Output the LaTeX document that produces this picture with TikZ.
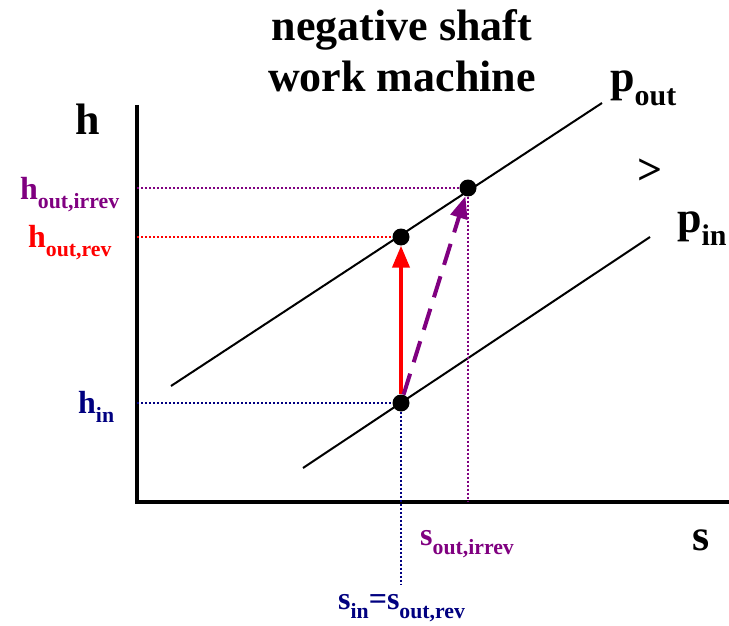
\documentclass[tikz,border=0pt]{standalone}
\usepackage{fontspec}
\setmainfont{Liberation Serif}
\usepackage{graphicx}
\usetikzlibrary{arrows.meta}
\definecolor{irrevpurple}{RGB}{128,0,128}
\definecolor{innavy}{RGB}{0,0,128}
\newcommand{\lowsub}[1]{\raisebox{-0.3em}{\scalebox{0.68}{#1}}}
\newcommand{\bigfont}{\fontsize{44}{51}\selectfont\bfseries}
\newcommand{\lblfont}{\fontsize{32}{36}\selectfont\bfseries}

\begin{document}
\begin{tikzpicture}[x=1pt, y=-1pt,
    state/.style={circle, fill=black, inner sep=0pt, minimum size=17pt},
    guide/.style={line width=1.3pt, dash pattern=on 2pt off 2pt},
    proc/.style={line width=4pt, -{Triangle[length=22pt, width=17pt]}},
    biglbl/.style={font=\bigfont, inner sep=0pt},
    lbl/.style={font=\lblfont, inner sep=0pt, anchor=base west}]
\useasboundingbox (0,0) rectangle (729,626);
\node[biglbl, align=center, anchor=north] (title) at (402,9) {negative shaft\\work machine};

\coordinate (htop) at (137,105);
\coordinate (orig) at (137,502);
\coordinate (send) at (729,502);
\draw[line width=3.5pt] (htop) -- (orig) -- (send);

\coordinate (poutA) at (171,386);
\coordinate (poutB) at (602,103);
\coordinate (pinA) at (303,468);
\coordinate (pinB) at (650,237);
\draw[line width=2pt] (poutA) -- (poutB) (pinA) -- (pinB);

\node[state] (in) at (401,403) {};
\node[state] (rev) at (401,237) {};
\node[state] (irrev) at (468,188) {};

\coordinate (hirrev) at (137,188);
\coordinate (hrev) at (137,237);
\coordinate (hin) at (137,403);
\coordinate (sirrev) at (468,502);
\coordinate (sin) at (401,585);
\draw[guide, irrevpurple] (hirrev) -- (irrev) -- (sirrev);
\draw[guide, red] (hrev) -- (rev);
\draw[guide, innavy] (hin) -- (in) -- (sin);

\draw[proc, red] (in) -- (rev);
\draw[proc, irrevpurple, dash pattern=on 22pt off 12pt] (in) -- (irrev);

\node[biglbl, anchor=base west] (haxis) at (75,135) {h};
\node[biglbl, anchor=base west] (saxis) at (692,550) {s};
\node[biglbl, anchor=base west] (pout) at (610,92) {p\lowsub{out}};
\node[biglbl, anchor=base west] (pin) at (677,232) {p\lowsub{in}};
\node[biglbl] (gt) at (650,172) {>};

\node[lbl, irrevpurple] (hirrevlbl) at (20,199) {h\lowsub{out,irrev}};
\node[lbl, red] (hrevlbl) at (28,247) {h\lowsub{out,rev}};
\node[lbl, innavy] (hinlbl) at (78,413) {h\lowsub{in}};
\node[lbl, irrevpurple] (sirrevlbl) at (420,545) {s\lowsub{out,irrev}};
\node[lbl, innavy] (sinlbl) at (338,609) {s\lowsub{in}=s\lowsub{out,rev}};
\end{tikzpicture}
\end{document}
